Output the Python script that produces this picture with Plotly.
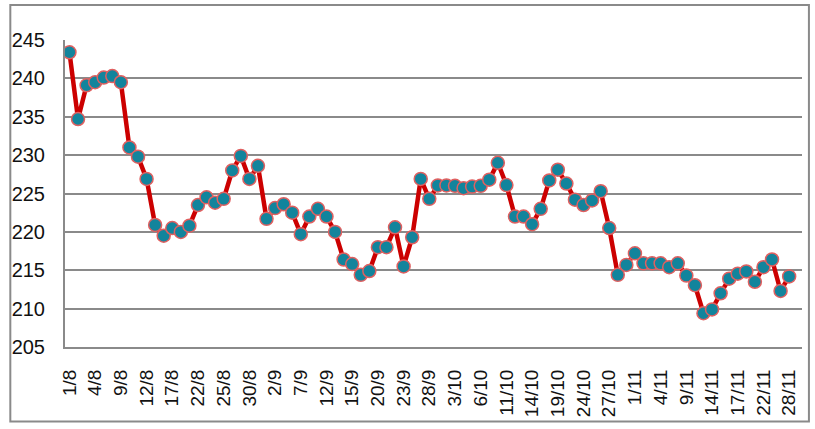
import plotly.graph_objects as go

# Daily values (85 points); a date label every 3rd point
values = [243.4, 234.7, 239.1, 239.5, 240.1, 240.3, 239.5, 231.0, 229.8, 226.9,
          220.9, 219.5, 220.5, 220.0, 220.8, 223.5, 224.5, 223.8, 224.3, 228.0,
          229.9, 226.9, 228.6, 221.7, 223.1, 223.6, 222.5, 219.7, 222.0, 223.0,
          222.0, 220.0, 216.4, 215.8, 214.4, 214.9, 218.0, 218.0, 220.6, 215.5,
          219.3, 226.9, 224.3, 226.05, 226.05, 226.0, 225.7, 225.9, 226.0, 226.8,
          229.0, 226.1, 222.0, 222.0, 221.0, 223.0, 226.7, 228.1, 226.3, 224.2,
          223.5, 224.1, 225.3, 220.5, 214.4, 215.7, 217.2, 215.9, 215.9, 215.9,
          215.4, 215.9, 214.3, 213.05, 209.4, 209.9, 212.0, 213.9, 214.55, 214.85,
          213.5, 215.4, 216.4, 212.3, 214.2]

tick_labels = ["1/8", "4/8", "9/8", "12/8", "17/8", "22/8", "25/8", "30/8",
               "2/9", "7/9", "12/9", "15/9", "20/9", "23/9", "28/9",
               "3/10", "6/10", "11/10", "14/10", "19/10", "24/10", "27/10",
               "1/11", "4/11", "9/11", "14/11", "17/11", "22/11", "28/11"]
label_step = 3

x_idx = list(range(len(values)))
tick_vals = [i * label_step for i in range(len(tick_labels))]

FONT = "Liberation Sans, Arial, sans-serif"
GRID = "#8a8a8a"

fig = go.Figure()
fig.add_trace(go.Scatter(
    x=x_idx, y=values, mode="lines+markers",
    line=dict(color="#cc0000", width=4.5),
    marker=dict(size=13, color="#12849c", line=dict(color="#e06060", width=1.5)),
    showlegend=False,
))

fig.update_layout(
    width=815, height=429,
    margin=dict(l=61, r=13, t=40, b=80),
    paper_bgcolor="white", plot_bgcolor="white",
    font=dict(family=FONT, color="#111111", size=19),
    xaxis=dict(
        range=[-0.52, 85.5], tickmode="array", tickvals=tick_vals, ticktext=tick_labels,
        tickangle=-90, showgrid=False, zeroline=False,
        showline=True, linecolor=GRID, linewidth=2,
        ticks="outside", ticklen=13, tickcolor="rgba(0,0,0,0)",
        tickfont=dict(size=19, family=FONT),
    ),
    yaxis=dict(
        range=[205, 245], dtick=5, tick0=205, showgrid=True, gridcolor=GRID, gridwidth=2,
        zeroline=False, showline=True, linecolor=GRID, linewidth=2,
        ticks="outside", ticklen=14, tickcolor="rgba(0,0,0,0)",
        tickfont=dict(size=20, family=FONT),
    ),
    shapes=[dict(
        type="rect", xref="paper", yref="paper",
        x0=-0.0742, x1=1.0094, y0=-0.2427, y1=1.1142,
        line=dict(color=GRID, width=2), fillcolor="rgba(0,0,0,0)", layer="above",
    )],
)

fig.write_html("out.html", config={"displayModeBar": False},
               post_script="document.body.style.margin='0';")
